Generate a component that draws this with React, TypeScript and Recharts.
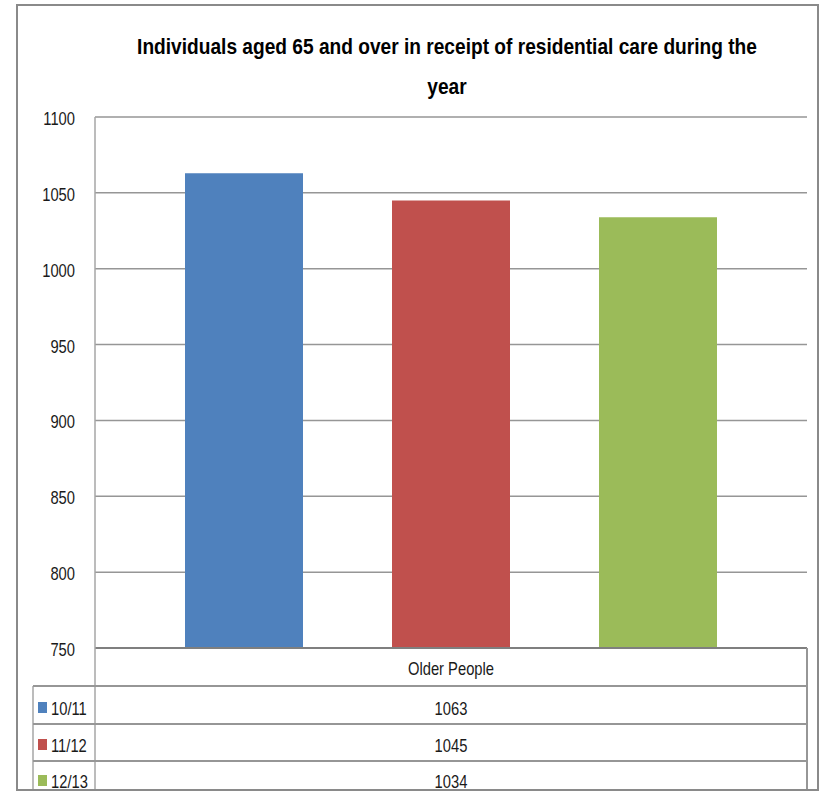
import React from "react";
import { BarChart, Bar, XAxis, YAxis, CartesianGrid } from "recharts";

const categories = ["Older People"];
const seriesNames = ["10/11", "11/12", "12/13"];
const seriesValues = [1063, 1045, 1034];
const seriesColors = ["#4F81BD", "#C0504D", "#9BBB59"];
const yTicks = [750, 800, 850, 900, 950, 1000, 1050, 1100];

const titleLines = [
  "Individuals aged 65 and over in receipt of residential care during the",
  "year",
];

const data = categories.map((name) => {
  const row: Record<string, string | number> = { name };
  seriesNames.forEach((s, i) => {
    row[s] = seriesValues[i];
  });
  return row;
});

const FONT = "'Liberation Sans', Arial, sans-serif";
const GRID = "#969696";
const INK = "#1a1a1a";

const W = 821;
const H = 791;
const PLOT_LEFT = 95;
const PLOT_RIGHT = 807;
const PLOT_TOP = 117;
const ROW_LINES = [686, 724, 761];
const ROW_BASELINES = [715, 752, 788];

// condensed look: regular face squeezed horizontally around its anchor
function NText({
  x,
  y,
  anchor = "start",
  size = 18,
  sx = 0.82,
  weight = "normal",
  fill = INK,
  children,
}: any) {
  return (
    <text
      transform={`translate(${x},${y}) scale(${sx},1)`}
      textAnchor={anchor}
      fontFamily={FONT}
      fontSize={size}
      fontWeight={weight}
      fill={fill}
    >
      {children}
    </text>
  );
}

function YTick({ x, y, payload }: any) {
  return (
    <NText x={x - 12} y={y + 8} anchor="end">
      {payload.value}
    </NText>
  );
}

function XTick({ x, payload }: any) {
  return (
    <NText x={x} y={675} anchor="middle">
      {payload.value}
    </NText>
  );
}

// data table under the plot: series rows with colour keys and values
function DataTable() {
  const mid = (PLOT_LEFT + PLOT_RIGHT) / 2;
  return (
    <svg
      width={W}
      height={H}
      style={{ position: "absolute", left: 0, top: 0, pointerEvents: "none" }}
    >
      <line x1={PLOT_RIGHT} y1={648} x2={PLOT_RIGHT} y2={790} stroke={GRID} strokeWidth={2} />
      <line x1={PLOT_LEFT} y1={648} x2={PLOT_LEFT} y2={790} stroke="#a6a6a6" strokeWidth={1.5} />
      <line x1={33} y1={ROW_LINES[0]} x2={33} y2={790} stroke="#a6a6a6" strokeWidth={1.5} />
      {ROW_LINES.map((y) => (
        <line key={y} x1={33} y1={y} x2={PLOT_RIGHT} y2={y} stroke={GRID} strokeWidth={2} />
      ))}
      {seriesNames.map((s, i) => (
        <g key={s}>
          <rect x={38} y={ROW_BASELINES[i] - 13} width={9} height={11} fill={seriesColors[i]} />
          <NText x={51} y={ROW_BASELINES[i]}>
            {s}
          </NText>
          <NText x={mid} y={ROW_BASELINES[i]} anchor="middle">
            {seriesValues[i]}
          </NText>
        </g>
      ))}
      <rect x={17} y={5} width={801} height={785} fill="none" stroke="#8a8a8a" strokeWidth={2} />
    </svg>
  );
}

export default function App() {
  return (
    <div style={{ position: "absolute", left: 0, top: 0, width: W, height: H, background: "#fff", overflow: "hidden" }}>
      <BarChart
        width={W}
        height={H}
        data={data}
        margin={{ top: PLOT_TOP, right: W - PLOT_RIGHT, bottom: 103, left: 0 }}
        barSize={118}
        barGap={89}
      >
        <NText x={447} y={54} anchor="middle" size={22} sx={0.87} weight="bold" fill="#000">
          {titleLines[0]}
        </NText>
        <NText x={447} y={94} anchor="middle" size={22} sx={0.87} weight="bold" fill="#000">
          {titleLines[1]}
        </NText>
        <CartesianGrid vertical={false} stroke={GRID} strokeWidth={1.5} />
        <XAxis
          dataKey="name"
          height={40}
          tickLine={false}
          axisLine={{ stroke: "#7f7f7f", strokeWidth: 2 }}
          tick={<XTick />}
        />
        <YAxis
          width={PLOT_LEFT}
          domain={[750, 1100]}
          ticks={yTicks}
          interval={0}
          tickLine={false}
          axisLine={{ stroke: "#a6a6a6", strokeWidth: 1.5 }}
          tick={<YTick />}
        />
        {seriesNames.map((s, i) => (
          <Bar key={s} dataKey={s} fill={seriesColors[i]} isAnimationActive={false} />
        ))}
      </BarChart>
      <DataTable />
    </div>
  );
}
